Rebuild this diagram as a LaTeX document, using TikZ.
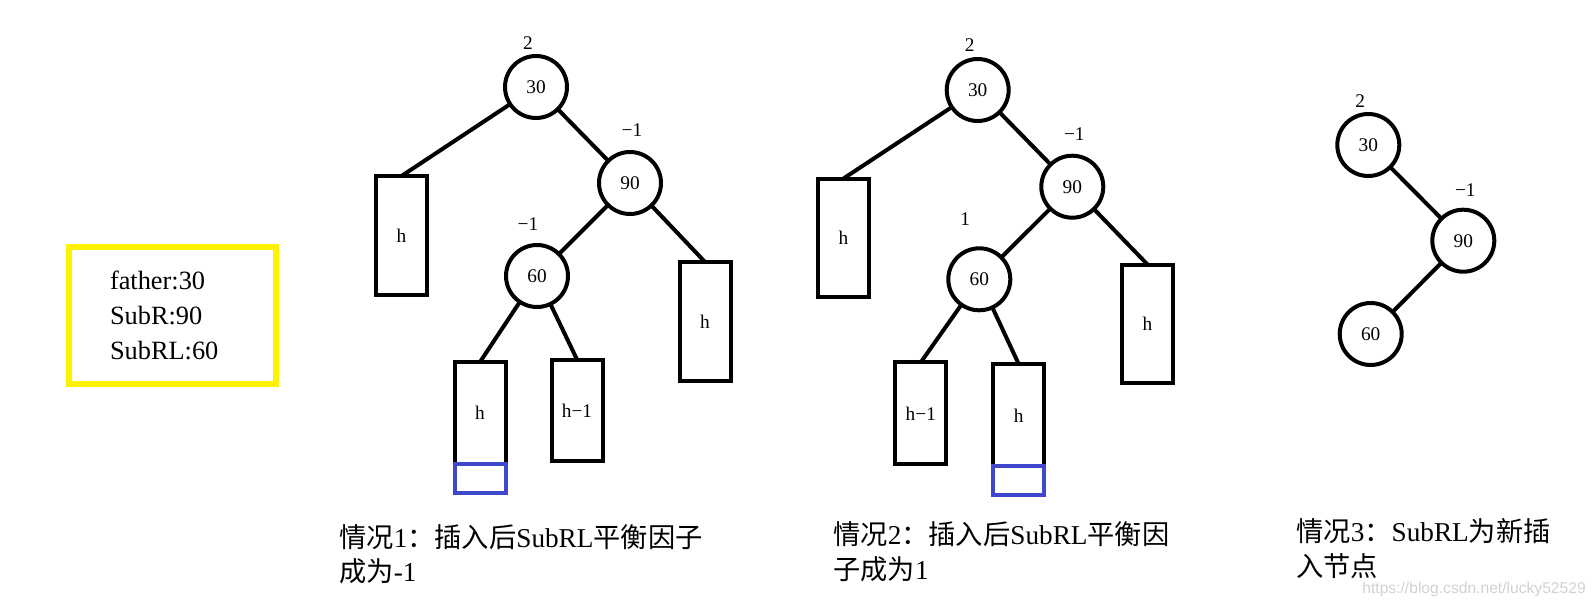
\documentclass[tikz,border=0pt]{standalone}
\usepackage{fontspec}
\setmainfont{Liberation Serif}
\newfontfamily\cjk{Noto Sans CJK SC}
\newfontfamily\wmfont{Liberation Sans}
\usetikzlibrary{positioning,calc}
\definecolor{paintyellow}{HTML}{FFF200}
\definecolor{paintblue}{HTML}{3F48CC}
\definecolor{wmgray}{HTML}{D2D2D2}
\tikzset{
  every node/.style={font=\fontsize{11}{13}\selectfont},
  treenode/.style={
    circle, draw=black, line width=0.08cm,
    minimum size=1.24cm, inner sep=0pt, outer sep=0pt
  },
  subtree/.style={
    rectangle, draw=black, line width=0.08cm,
    minimum width=1.02cm, minimum height=2.38cm,
    inner sep=0pt, outer sep=0pt
  },
  shorttree/.style={subtree, minimum height=2.04cm},
  newleaf/.style={
    rectangle, draw=paintblue, line width=0.08cm,
    minimum width=1.02cm, minimum height=0.58cm,
    inner sep=0pt, outer sep=0pt
  },
  balance/.style={inner sep=0pt},
  edge/.style={line width=0.08cm},
  infobox/.style={
    rectangle, draw=paintyellow, line width=0.12cm,
    minimum width=4.14cm, minimum height=2.74cm,
    text width=2.5cm, align=left, inner xsep=0.82cm,
    font=\fontsize{15}{19.9}\selectfont
  },
  caption/.style={
    anchor=base west, align=left, inner sep=0pt,
    font=\fontsize{15.5}{19.6}\selectfont
  },
  watermark/.style={anchor=west, inner sep=0pt, text=wmgray, font=\wmfont\fontsize{8.9}{10}\selectfont},
}
\begin{document}
\begin{tikzpicture}[x=0.02cm, y=-0.02cm]
  \path[use as bounding box, fill=white] (0,0) rectangle (1595,611);

  \node[infobox] (info) at (172.5,315.5) {father:30\\SubR:90\\SubRL:60};

  \node[treenode] (a30) at (536,87) {30};
  \node[treenode] (a90) at (630,183) {90};
  \node[treenode] (a60) at (537,276) {60};
  \node[subtree] (aL) at (401.5,235.5) {h};
  \node[subtree] (aR) at (705,321.5) {h};
  \node[shorttree] (aRLL) at (480,413) {h};
  \node[shorttree] (aRLR) at (577,410.5) {h−1};
  \node[newleaf, below=0pt of aRLL] (aNew) {};
  \node[balance] (ba30) at ($(a30)+(-8,-44)$) {2};
  \node[balance] (ba90) at ($(a90)+(2,-53)$) {−1};
  \node[balance] (ba60) at ($(a60)+(-9,-52)$) {−1};
  \draw[edge] (a30) -- (aL.north);
  \draw[edge] (a30) -- (a90);
  \draw[edge] (a90) -- (a60);
  \draw[edge] (a90) -- (aR.north);
  \draw[edge] (a60) -- (aRLL.north);
  \draw[edge] (a60) -- (aRLR.north);

  \node[treenode] (b30) at (977.7,90) {30};
  \node[treenode] (b90) at (1072.3,186.7) {90};
  \node[treenode] (b60) at (979.3,279.3) {60};
  \node[subtree] (bL) at (843.5,238) {h};
  \node[subtree] (bR) at (1147.5,324) {h};
  \node[shorttree] (bRLL) at (920.8,413.3) {h−1};
  \node[shorttree] (bRLR) at (1018.8,415.3) {h};
  \node[newleaf, below=0pt of bRLR] (bNew) {};
  \node[balance] (bb30) at ($(b30)+(-8,-45)$) {2};
  \node[balance] (bb90) at ($(b90)+(2,-53)$) {−1};
  \node[balance] (bb60) at ($(b60)+(-14,-60)$) {1};
  \draw[edge] (b30) -- (bL.north);
  \draw[edge] (b30) -- (b90);
  \draw[edge] (b90) -- (b60);
  \draw[edge] (b90) -- (bR.north);
  \draw[edge] (b60) -- (bRLL.north);
  \draw[edge] (b60) -- (bRLR.north);

  \node[treenode] (c30) at (1368.3,145) {30};
  \node[treenode] (c90) at (1463.3,240.7) {90};
  \node[treenode] (c60) at (1370.7,334) {60};
  \node[balance] (cb30) at ($(c30)+(-8,-44)$) {2};
  \node[balance] (cb90) at ($(c90)+(2,-51)$) {−1};
  \draw[edge] (c30) -- (c90);
  \draw[edge] (c90) -- (c60);

  \node[caption] (cap1) at (339,581.7) {{\cjk 情况}1{\cjk ：插入后}SubRL{\cjk 平衡因子}\\{\cjk 成为}-1};
  \node[caption] (cap2) at (833,579) {{\cjk 情况}2{\cjk ：插入后}SubRL{\cjk 平衡因}\\{\cjk 子成为}1};
  \node[caption] (cap3) at (1296,576) {{\cjk 情况}3{\cjk ：}SubRL{\cjk 为新插}\\{\cjk 入节点}};
  \node[watermark] (wm) at (1362,589) {https://blog.csdn.net/lucky52529};
\end{tikzpicture}
\end{document}
